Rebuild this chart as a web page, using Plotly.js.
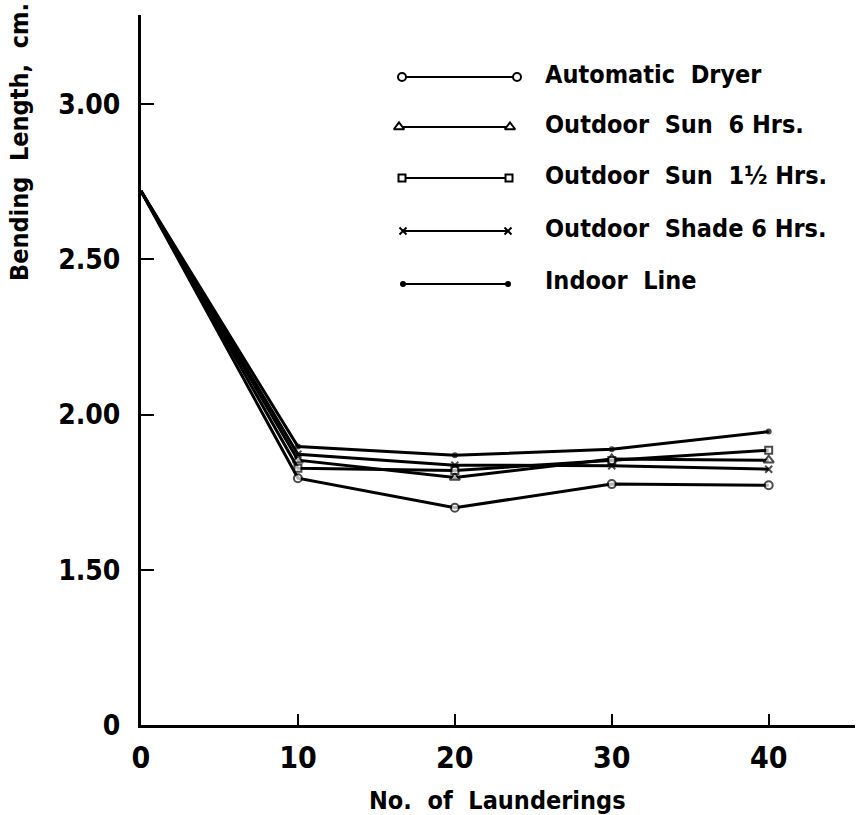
<!DOCTYPE html>
<html>
<head>
<meta charset="utf-8">
<script src="https://cdn.plot.ly/plotly-3.0.1.min.js"></script>
<style>html,body{margin:0;padding:0;background:#fff;}#chart{width:858px;height:815px;}</style>
</head>
<body>
<div id="chart"></div>
<script>
// ---- data ----
const launderings = [0, 10, 20, 30, 40];
const automaticDryer   = [2.72, 1.795, 1.700, 1.776, 1.772];
const outdoorSun6      = [2.72, 1.853, 1.797, 1.857, 1.853];
const outdoorSun1half  = [2.72, 1.827, 1.820, 1.852, 1.885];
const outdoorShade6    = [2.72, 1.872, 1.837, 1.835, 1.824];
const indoorLine       = [2.72, 1.897, 1.869, 1.888, 1.945];
const seriesNames = ["Automatic\u00a0 Dryer", "Outdoor\u00a0 Sun\u00a0 6 Hrs.", "Outdoor\u00a0 Sun\u00a0 1\u00bd Hrs.", "Outdoor\u00a0 Shade 6 Hrs.", "Indoor\u00a0 Line"];
const yTickVals = [1.0, 1.5, 2.0, 2.5, 3.0];
const yTickText = ["0", "1.50", "2.00", "2.50", "3.00"];
const xTickVals = [0, 10, 20, 30, 40];

// ---- styles ----
const series = [automaticDryer, outdoorSun6, outdoorSun1half, outdoorShade6, indoorLine];
const markerStyles = [
  {symbol: "circle", size: 8, color: "#fff", line: {color: "#000", width: 2}},
  {symbol: "triangle-up", size: 9, color: "#fff", line: {color: "#000", width: 2}},
  {symbol: "square", size: 7, color: "#fff", line: {color: "#000", width: 2}},
  {symbol: "x-thin", size: 7, color: "#000", line: {color: "#000", width: 2}},
  {symbol: "circle", size: 6, color: "#000", line: {color: "#000", width: 0}}
];
const tickFont = {family: "DejaVu Sans Condensed, DejaVu Sans", size: 28, color: "#000", weight: "bold"};
const textFont = {family: "DejaVu Sans Condensed, DejaVu Sans", size: 25, color: "#000", weight: "bold"};

// pixel -> paper helpers for layout placement
const PL = 141, PR = 855, PT = 15, PB = 725;
const px = v => (v - PL) / (PR - PL);
const py = v => (PB - v) / (PB - PT);

const traces = [];
series.forEach((ys, i) => {
  const m = Object.assign({}, markerStyles[i]);
  m.size = launderings.map(x => x === 0 ? 0 : markerStyles[i].size);
  traces.push({
    x: launderings, y: ys, type: "scatter", mode: "lines+markers",
    line: {color: "#000", width: 3}, marker: m, showlegend: false, hoverinfo: "skip"
  });
});

// ---- custom legend (pixel-space overlay axes) ----
const legendRows = [77, 127, 178, 231, 284];
const legendLeft = [402, 399, 402, 403, 403];
const legendRight = [517, 510, 509, 508, 508];
const annotations = [];
series.forEach((ys, i) => {
  traces.push({
    x: [legendLeft[i], legendRight[i]], y: [legendRows[i], legendRows[i]],
    xaxis: "x2", yaxis: "y2", type: "scatter", mode: "lines+markers",
    line: {color: "#000", width: 2}, marker: markerStyles[i], showlegend: false, hoverinfo: "skip"
  });
  annotations.push({
    x: px(543), y: py(legendRows[i] - 3), xref: "paper", yref: "paper", xanchor: "left", yanchor: "middle",
    text: seriesNames[i], showarrow: false, font: textFont
  });
});
annotations.push({
  x: px(19), y: py(142), xref: "paper", yref: "paper", xanchor: "center", yanchor: "middle", textangle: -90,
  text: "Bending\u00a0 Length,\u00a0 cm.", showarrow: false, font: Object.assign({}, textFont, {size: 25})
});
annotations.push({
  x: px(497), y: py(800), xref: "paper", yref: "paper", xanchor: "center", yanchor: "middle",
  text: "No.\u00a0 of\u00a0 Launderings", showarrow: false, font: Object.assign({}, textFont, {size: 25})
});

const layout = {
  width: 858, height: 815,
  margin: {l: 141, r: 3, t: 15, b: 90, pad: 0},
  paper_bgcolor: "#fff", plot_bgcolor: "#fff",
  showlegend: false,
  xaxis: {
    range: [0, 45.5], tickvals: xTickVals, ticktext: xTickVals.map(String),
    ticks: "inside", ticklen: 11, tickwidth: 2, tickcolor: "#000",
    showline: true, linewidth: 3, linecolor: "#000", showgrid: false, zeroline: false,
    tickfont: Object.assign({}, tickFont, {size: 30}), ticklabelstandoff: 4, fixedrange: true
  },
  yaxis: {
    range: [1.0, 3.287], tickvals: yTickVals, ticktext: yTickText,
    ticks: "inside", ticklen: 13, tickwidth: 2, tickcolor: "#000",
    showline: true, linewidth: 3, linecolor: "#000", showgrid: false, zeroline: false,
    tickfont: tickFont, ticklabelstandoff: 12, fixedrange: true
  },
  xaxis2: {overlaying: "x", range: [PL, PR], visible: false, fixedrange: true, anchor: "y2"},
  yaxis2: {overlaying: "y", range: [PB, PT], visible: false, fixedrange: true, anchor: "x2"},
  annotations: annotations
};

Plotly.newPlot("chart", traces, layout, {staticPlot: true, displayModeBar: false});
</script>
</body>
</html>
